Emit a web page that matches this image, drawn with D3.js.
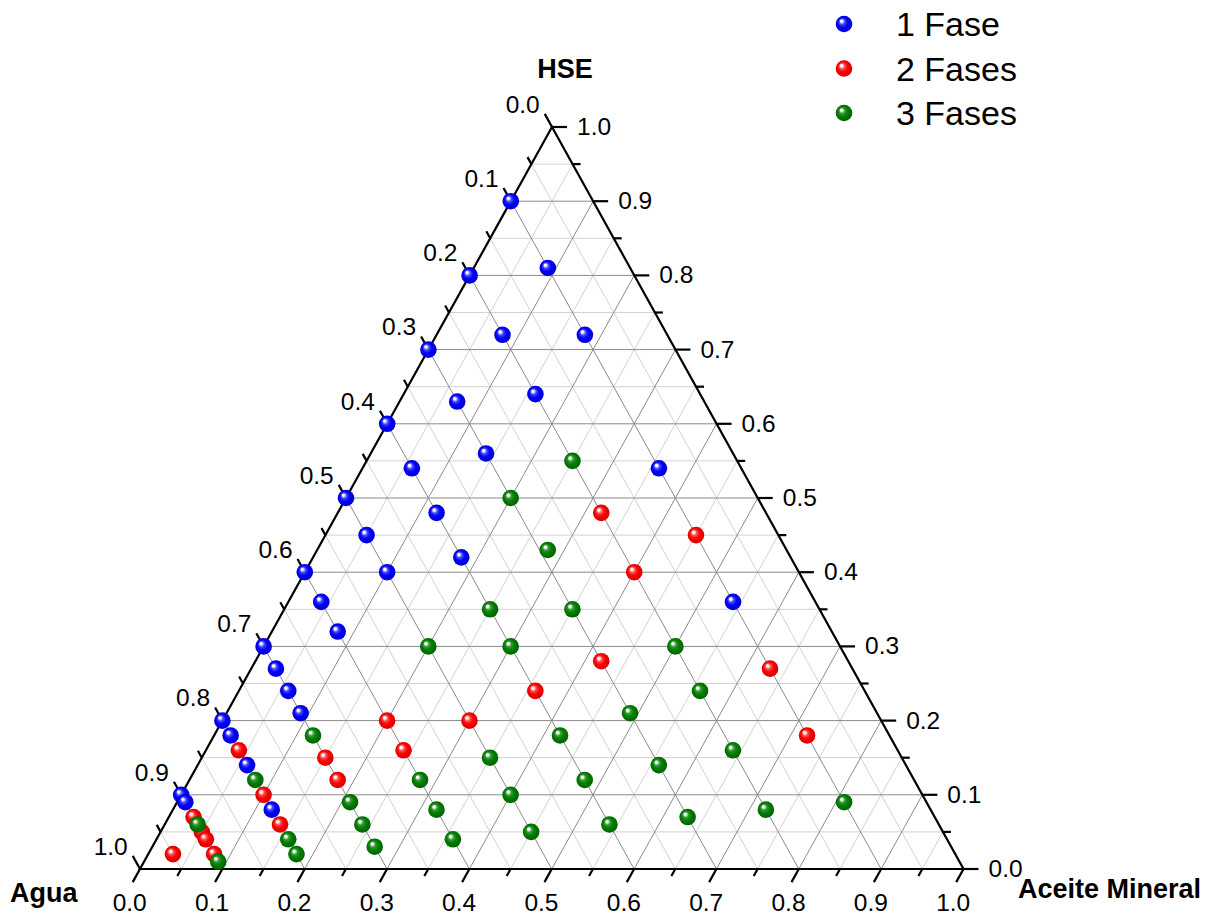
<!DOCTYPE html>
<html>
<head>
<meta charset="utf-8">
<script src="https://cdn.jsdelivr.net/npm/d3@7"></script>
<style>
  body { margin: 0; background: #fff; }
  text { font-family: "Liberation Sans", Arial, sans-serif; }
</style>
</head>
<body>
<div id="chart"></div>
<script>
// composition = [Agua, Aceite Mineral, HSE]
const fase1 = [
  [0.1, 0, 0.9], [0.1, 0.09, 0.81], [0.1, 0.18, 0.72], [0.1, 0.36, 0.54], [0.1, 0.54, 0.36],
  [0.2, 0, 0.8], [0.2, 0.08, 0.72], [0.2, 0.16, 0.64],
  [0.3, 0, 0.7], [0.3, 0.07, 0.63], [0.3, 0.14, 0.56],
  [0.4, 0, 0.6], [0.4, 0.06, 0.54], [0.4, 0.12, 0.48], [0.4, 0.18, 0.42],
  [0.5, 0, 0.5], [0.5, 0.05, 0.45], [0.5, 0.1, 0.4],
  [0.6, 0, 0.4], [0.6, 0.04, 0.36], [0.6, 0.08, 0.32],
  [0.7, 0, 0.3], [0.7, 0.03, 0.27], [0.7, 0.06, 0.24], [0.7, 0.09, 0.21],
  [0.8, 0, 0.2], [0.8, 0.02, 0.18], [0.8, 0.06, 0.14], [0.8, 0.12, 0.08],
  [0.9, 0, 0.1], [0.9, 0.01, 0.09]
];
const fase2 = [
  [0.1, 0.45, 0.45], [0.1, 0.63, 0.27], [0.1, 0.72, 0.18],
  [0.2, 0.32, 0.48], [0.2, 0.4, 0.4],
  [0.3, 0.42, 0.28],
  [0.4, 0.36, 0.24],
  [0.5, 0.3, 0.2],
  [0.6, 0.2, 0.2], [0.6, 0.24, 0.16],
  [0.7, 0.15, 0.15], [0.7, 0.18, 0.12],
  [0.8, 0.04, 0.16], [0.8, 0.1, 0.1], [0.8, 0.14, 0.06],
  [0.9, 0.03, 0.07], [0.9, 0.05, 0.05], [0.9, 0.06, 0.04], [0.9, 0.08, 0.02],
  [0.95, 0.03, 0.02]
];
const fase3 = [
  [0.1, 0.81, 0.09],
  [0.2, 0.25, 0.55], [0.2, 0.5, 0.3], [0.2, 0.56, 0.24], [0.2, 0.64, 0.16], [0.2, 0.72, 0.08],
  [0.3, 0.2, 0.5], [0.29, 0.28, 0.43], [0.3, 0.35, 0.35], [0.3, 0.49, 0.21], [0.3, 0.56, 0.14], [0.3, 0.63, 0.07],
  [0.4, 0.25, 0.35], [0.4, 0.3, 0.3], [0.4, 0.42, 0.18], [0.4, 0.48, 0.12], [0.4, 0.54, 0.06],
  [0.5, 0.2, 0.3], [0.5, 0.35, 0.15], [0.5, 0.4, 0.1], [0.5, 0.45, 0.05],
  [0.6, 0.28, 0.12], [0.6, 0.32, 0.08], [0.6, 0.36, 0.04],
  [0.7, 0.12, 0.18], [0.7, 0.21, 0.09], [0.7, 0.24, 0.06], [0.7, 0.27, 0.03],
  [0.8, 0.08, 0.12], [0.8, 0.16, 0.04], [0.8, 0.18, 0.02],
  [0.9, 0.04, 0.06], [0.9, 0.09, 0.01]
];

const seriesNames = ["1 Fase", "2 Fases", "3 Fases"];
const seriesColors = [["#4a4aff", "#0000ff", "#0000c8"], ["#ff5050", "#ff0000", "#d00000"], ["#3a9a3a", "#008000", "#005c00"]];
const axisTitles = ["Agua", "Aceite Mineral", "HSE"];
const majorTicks = [0, 0.1, 0.2, 0.3, 0.4, 0.5, 0.6, 0.7, 0.8, 0.9, 1.0];
const tickLabels = ["0.0", "0.1", "0.2", "0.3", "0.4", "0.5", "0.6", "0.7", "0.8", "0.9", "1.0"];
const minorTicks = [0.05, 0.15, 0.25, 0.35, 0.45, 0.55, 0.65, 0.75, 0.85, 0.95];

const width = 1217, height = 917;
const baseLeft = 140, baseY = 869, apexY = 127, side = 823.5, apexShift = 412;

const svg = d3.select("#chart").append("svg")
  .attr("width", width)
  .attr("height", height);

// ternary -> pixel: Aceite runs along the base, HSE pulls up towards the apex
const hseY = d3.scaleLinear().domain([0, 1]).range([baseY, apexY]);
const aceiteX = d3.scaleLinear().domain([0, 1]).range([baseLeft, baseLeft + side]);
const hseShift = d3.scaleLinear().domain([0, 1]).range([0, apexShift]);

function pos(d) {
  const s = d[0] + d[1] + d[2];
  const b = d[1] / s, c = d[2] / s;
  return [aceiteX(b) + hseShift(c), hseY(c)];
}

// gradients for the glossy balls
const defs = svg.append("defs");
seriesColors.forEach((cols, i) => {
  const g = defs.append("radialGradient")
    .attr("id", "ball" + i)
    .attr("cx", "50%").attr("cy", "50%").attr("r", "55%")
    .attr("fx", "33%").attr("fy", "30%");
  g.append("stop").attr("offset", "0%").attr("stop-color", "#ffffff");
  g.append("stop").attr("offset", "12%").attr("stop-color", "#ffffff").attr("stop-opacity", 0.9);
  g.append("stop").attr("offset", "30%").attr("stop-color", cols[0]);
  g.append("stop").attr("offset", "55%").attr("stop-color", cols[1]);
  g.append("stop").attr("offset", "100%").attr("stop-color", cols[2]);
});

// grid
const gridVals = majorTicks.slice(1, -1).concat(minorTicks);
const gridLines = [];
gridVals.forEach(v => {
  const major = majorTicks.includes(v);
  gridLines.push({ p: [[1 - v, 0, v], [0, 1 - v, v]], major });
  gridLines.push({ p: [[1 - v, v, 0], [0, v, 1 - v]], major });
  gridLines.push({ p: [[v, 1 - v, 0], [v, 0, 1 - v]], major });
});
gridLines.sort((a, b) => a.major - b.major);
svg.append("g").selectAll("line")
  .data(gridLines)
  .join("line")
  .attr("x1", d => pos(d.p[0])[0]).attr("y1", d => pos(d.p[0])[1])
  .attr("x2", d => pos(d.p[1])[0]).attr("y2", d => pos(d.p[1])[1])
  .attr("stroke", d => d.major ? "#8a8a8a" : "#d2d2d2")
  .attr("stroke-width", 1);

// triangle frame
const corners = [[1, 0, 0], [0, 1, 0], [0, 0, 1]].map(pos);
svg.append("path")
  .attr("d", "M" + corners.map(p => p.join(",")).join("L") + "Z")
  .attr("fill", "none")
  .attr("stroke", "#000")
  .attr("stroke-width", 2.2)
  .attr("stroke-linejoin", "miter");

// tick directions, each along the grid lines of its own axis
const dirLeft = [-(side - apexShift), -(baseY - apexY)];
const nL = Math.hypot(dirLeft[0], dirLeft[1]);
const uLeft = [dirLeft[0] / nL, dirLeft[1] / nL];
const dirBot = [-apexShift, baseY - apexY];
const nB = Math.hypot(dirBot[0], dirBot[1]);
const uBot = [dirBot[0] / nB, dirBot[1] / nB];
const uRight = [1, 0];

const axes = [
  { at: v => [v, 0, 1 - v], u: uLeft },   // Agua, left edge
  { at: v => [1 - v, v, 0], u: uBot },    // Aceite, bottom edge
  { at: v => [0, 1 - v, v], u: uRight }   // HSE, right edge
];

const tickG = svg.append("g").attr("stroke", "#000").attr("stroke-width", 2.2);
axes.forEach(ax => {
  [[majorTicks, 15], [minorTicks, 8]].forEach(([vals, len]) => {
    tickG.selectAll(null)
      .data(vals)
      .join("line")
      .attr("x1", v => pos(ax.at(v))[0])
      .attr("y1", v => pos(ax.at(v))[1])
      .attr("x2", v => pos(ax.at(v))[0] + ax.u[0] * len)
      .attr("y2", v => pos(ax.at(v))[1] + ax.u[1] * len);
  });
});

// tick labels
const labG = svg.append("g").attr("font-size", 24.5).attr("fill", "#000");
labG.selectAll(null)
  .data(majorTicks)
  .join("text")
  .attr("x", v => pos(axes[0].at(v))[0] + uLeft[0] * 15 - 5)
  .attr("y", v => pos(axes[0].at(v))[1] + uLeft[1] * 15 - 1)
  .attr("text-anchor", "end")
  .text((v, i) => tickLabels[i]);
labG.selectAll(null)
  .data(majorTicks)
  .join("text")
  .attr("x", v => pos(axes[1].at(v))[0] + uBot[0] * 15 - 3)
  .attr("y", 911)
  .attr("text-anchor", "middle")
  .text((v, i) => tickLabels[i]);
labG.selectAll(null)
  .data(majorTicks)
  .join("text")
  .attr("x", v => pos(axes[2].at(v))[0] + 25)
  .attr("y", v => pos(axes[2].at(v))[1] + 8)
  .attr("text-anchor", "start")
  .text((v, i) => tickLabels[i]);

// axis titles
const titleG = svg.append("g").attr("font-size", 27).attr("font-weight", "bold").attr("fill", "#000");
titleG.append("text").attr("x", 10).attr("y", 902).text(axisTitles[0]);
titleG.append("text").attr("x", 1018).attr("y", 898).text(axisTitles[1]);
titleG.append("text").attr("x", 565).attr("y", 78).attr("text-anchor", "middle").text(axisTitles[2]);

// points
[fase1, fase2, fase3].forEach((data, i) => {
  svg.append("g").selectAll("circle")
    .data(data)
    .join("circle")
    .attr("cx", d => pos(d)[0])
    .attr("cy", d => pos(d)[1])
    .attr("r", 8.3)
    .attr("fill", `url(#ball${i})`);
});

// legend
const leg = svg.append("g");
seriesNames.forEach((name, i) => {
  const y = 24 + i * 44.5;
  leg.append("circle").attr("cx", 844).attr("cy", y).attr("r", 8.3).attr("fill", `url(#ball${i})`);
  leg.append("text").attr("x", 896).attr("y", y + 12).attr("font-size", 34).attr("fill", "#000").text(name);
});
</script>
</body>
</html>
